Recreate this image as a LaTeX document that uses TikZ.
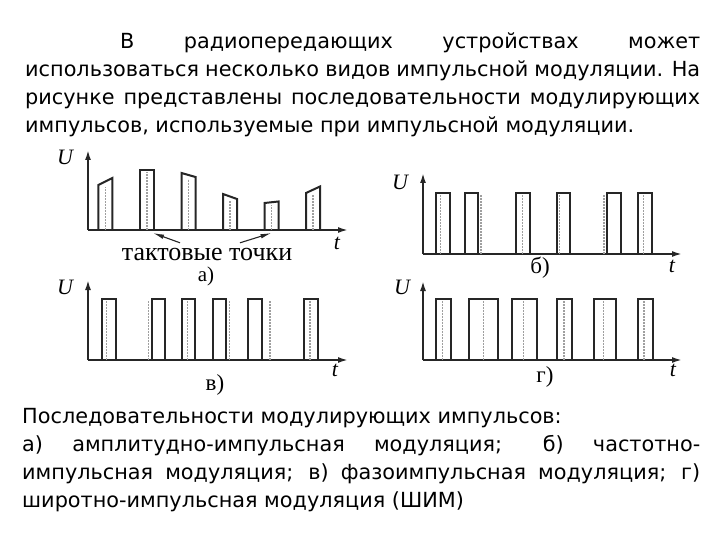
\documentclass[tikz,border=0pt]{standalone}
\usepackage{fontspec}
\setmainfont{Liberation Serif}
\newfontfamily\headfont{DejaVu Sans}
\usetikzlibrary{arrows.meta}

\begin{document}
\begin{tikzpicture}[
    x=1pt, y=-1pt,
    txtline/.style={anchor=base west, inner sep=0pt,
                    font=\headfont\fontsize{20.8}{25}\selectfont},
    axis/.style={line width=1.8pt, black!85, -{Latex[length=10pt,width=6pt]}},
    pulse/.style={line width=2pt, line join=miter, black!85},
    tact/.style={gray!75, line width=1.3pt, dash pattern=on 1.6pt off 1.4pt},
    lbl/.style={font=\fontsize{22}{24}\selectfont\itshape, inner sep=0pt},
    plotcap/.style={font=\fontsize{23}{25}\selectfont, inner sep=0pt},
    ptr/.style={line width=1.1pt, black!85, -{Latex[length=11pt,width=4.5pt]}}
  ]
  \useasboundingbox (0,0) rectangle (720,540);

  % text above the plots
  \node[txtline] (h1) at (25,48.5) {\makebox[675pt][s]{\hspace{95pt}В радиопередающих устройствах может}};
  \node[txtline] (h2) at (25,77) {\makebox[675pt][s]{использоваться несколько видов импульсной модуляции. На}};
  \node[txtline] (h3) at (25,105) {\makebox[675pt][s]{рисунке представлены последовательности модулирующих}};
  \node[txtline] (h4) at (25,133) {импульсов, используемые при импульсной модуляции.};

  % a) amplitude
  \begin{scope}[shift={(88,230)}]
    \node[lbl] (Ua) at (-23,-73) {U};
    \node[lbl] (ta) at (249,13) {t};
    \coordinate (Oa) at (0,0);
    \draw[axis] (Oa) -- (0,-80);
    \draw[axis] (Oa) -- (260,0);
    \foreach \x/\l/\r in {10.3/45/52, 52/60/60, 93.5/57/53, 135/36/31, 176.5/27/28.5, 218/37/43.5}
      {\draw[tact] (\x+7,0) -- (\x+7,{-min(\l,\r)+2});
       \draw[pulse] (\x,0) -- (\x,-\l) -- (\x+14,-\r) -- (\x+14,0);}
    \coordinate (tp2) at (65,3);
    \coordinate (tp5) at (183.5,3);
  \end{scope}
  \node[plotcap, font=\fontsize{26}{28}\selectfont, anchor=base,
        text height=12pt, text depth=0pt] (tk) at (207,260) {тактовые точки};
  \node[plotcap, font=\fontsize{21}{23}\selectfont, anchor=base,
        text height=11pt, text depth=3pt] (capa) at (206,281) {а)};
  \draw[ptr] ([shift={(-27,-5)}]tk.north) -- (tp2);
  \draw[ptr] ([shift={(33,-5)}]tk.north) -- (tp5);

  % b) frequency
  \begin{scope}[shift={(423,254)}]
    \node[lbl] (Ub) at (-23,-72) {U};
    \node[lbl] (tb) at (249,12) {t};
    \coordinate (Ob) at (0,0);
    \draw[axis] (Ob) -- (0,-81);
    \draw[axis] (Ob) -- (259,0);
    \foreach \d in {17.7, 58, 99.7, 136.3, 181, 220.3}
      \draw[tact] (\d,0) -- (\d,-59);
    \foreach \x/\w in {13/14, 42/13.3, 93/14, 133.7/13.3, 183.7/14, 215.3/14}
      \draw[pulse] (\x,0) -- (\x,-61) -- (\x+\w,-61) -- (\x+\w,0);
  \end{scope}
  \node[plotcap] (capb) at (540,268) {б)};

  % v) phase
  \begin{scope}[shift={(88,360)}]
    \node[lbl] (Uv) at (-23,-73) {U};
    \node[lbl] (tv) at (247,10) {t};
    \coordinate (Ov) at (0,0);
    \draw[axis] (Ov) -- (0,-80);
    \draw[axis] (Ov) -- (260,0);
    \foreach \d in {18.7, 60.3, 99.3, 141.3, 182, 222}
      \draw[tact] (\d,0) -- (\d,-59);
    \foreach \x/\w in {13.7/14, 63.7/13.5, 93.7/13.5, 124.7/13.5, 160.3/13.5, 216/13.5}
      \draw[pulse] (\x,0) -- (\x,-61) -- (\x+\w,-61) -- (\x+\w,0);
  \end{scope}
  \node[plotcap] (capv) at (215,385) {в)};

  % g) width
  \begin{scope}[shift={(423,360)}]
    \node[lbl] (Ug) at (-21,-73) {U};
    \node[lbl] (tg) at (250,10) {t};
    \coordinate (Og) at (0,0);
    \draw[axis] (Og) -- (0,-79);
    \draw[axis] (Og) -- (259,0);
    \foreach \d in {19.7, 60.3, 100.3, 141, 180.3, 221}
      \draw[tact] (\d,0) -- (\d,-59);
    \foreach \x/\w in {13/14.7, 46/29.3, 88.7/25, 134.3/14.4, 171/21.7, 215.3/14.4}
      \draw[pulse] (\x,0) -- (\x,-61) -- (\x+\w,-61) -- (\x+\w,0);
  \end{scope}
  \node[plotcap] (capg) at (545,377) {г)};

  % caption
  \node[txtline] (f1) at (22,423) {Последовательности модулирующих импульсов:};
  \node[txtline] (f2) at (22,451) {\makebox[678pt][s]{а) амплитудно-импульсная модуляция; б) частотно-}};
  \node[txtline] (f3) at (22,479) {\makebox[678pt][s]{импульсная модуляция; в) фазоимпульсная модуляция; г)}};
  \node[txtline] (f4) at (22,507) {широтно-импульсная модуляция (ШИМ)};
\end{tikzpicture}
\end{document}
